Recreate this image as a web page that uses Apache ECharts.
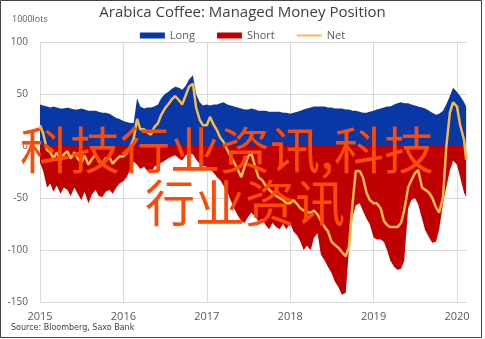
<!DOCTYPE html>
<html>
<head>
<meta charset="utf-8">
<script src="https://cdn.jsdelivr.net/npm/echarts@6/dist/echarts.min.js"></script>
<style>
  html, body { margin: 0; padding: 0; background: #fff; }
  #chart { width: 485px; height: 339px; }
</style>
</head>
<body>
<div id="chart"></div>
<script>
// CFTC managed-money positions in arabica coffee, thousand lots,
// sampled on the 1st and 15th of each month (Jan 2015 - Feb 2020)
const longPos = [
  40, 39,  38, 37,  38, 37,  36, 36,  37, 36,  35, 35,  36, 35,  34, 34,  34, 33,  32, 32,  31, 29,  27, 26,
  24, 23,  22, 22,  46, 38,  36, 37,  37, 38,  40, 46,  50, 52,  55, 57,  56, 54,  58, 64,  68, 50,  42, 39,
  40, 39,  40, 40,  41, 42,  40, 39,  38, 37,  36, 35,  35, 36,  35, 34,  34, 34,  33, 33,  33, 33,  32, 32,
  31, 32,  33, 34,  35, 36,  37, 38,  38, 38,  38, 37,  37, 36,  36, 36,  35, 35,  34, 34,  33, 32,  32, 33,
  34, 35,  36, 37,  38, 38,  40, 41,  42, 41,  41, 40,  39, 38,  37, 36,  34, 32,  30, 31,  34, 40,  48, 56,
  52, 48,  42, 38
];
const shortPos = [
  -16, -24,  -40, -36,  -44, -38,  -46, -40,  -42, -48,  -40, -46,  -52, -44,  -55, -47,  -42, -48,  -49, -44,  -42, -46,  -40, -36,
  -34, -30,  -22, -15,  -18, -22,  -20, -24,  -26, -20,  -18, -16,  -14, -12,  -10, -9,   -12, -14,  -9, -7,    -8, -13,   -17, -19,
  -20, -22,  -26, -30,  -33, -38,  -44, -52,  -60, -66,  -72, -74,  -68, -64,  -68, -72,  -70, -76,  -80, -74,  -78, -80,  -75, -80,
  -74, -82,  -86, -92,  -100, -96, -100, -88, -84, -104, -110, -116, -122, -130, -136, -143, -141, -100, -68, -57, -55, -62, -70, -75,
  -88, -90,  -90, -92,  -100, -110, -116, -119, -118, -110, -60, -52, -50, -56,  -70, -81,  -88, -93,  -92, -80,  -55, -40,  -23, -14,
  -18, -30,  -45, -49
];
const netPos = [
  20, 12,  -4, -6,  -12, -6,  -14, -8,  -5, -12,  -6, -12,  -16, -9,  -18, -13,  -8, -15,  -17, -12,  -11, -17,  -13, -10,
  -10, -7,  0, 7,  26, 16,  16, 13,  11, 18,  22, 30,  36, 40,  45, 48,  44, 40,  49, 57,  60, 37,  25, 20,
  20, 28,  20, 15,  8, 4,  -4, -10,  -16, -22,  -30, -20,  -10, -7,  -20, -30,  -33, -38,  -42, -45,  -48, -50,  -52, -55,
  -55, -52,  -56, -60,  -62, -64,  -64, -62,  -66, -72,  -78, -82,  -92, -95,  -98, -102,  -106, -97,  -55, -24,  -24, -30,  -45, -52,
  -55, -55,  -60, -72,  -76, -78,  -78, -78,  -74, -62,  -40, -33,  -26, -23,  -40, -42,  -45, -50,  -59, -64,  -49, -1,  32, 42,
  38, 20,  6, -13
];
const yearTicks = [2015, 2016, 2017, 2018, 2019, 2020];

// Report dates: 1st and 15th of every month, then the last two reports
const dates = [];
for (let y = 2015; y <= 2020; y++) {
  for (let m = 1; m <= 12; m++) {
    if (y === 2020 && m > 1) break;
    const mm = String(m).padStart(2, '0');
    dates.push(y + '-' + mm + '-01', y + '-' + mm + '-15');
  }
}
dates.push('2020-02-01', '2020-02-10');

// Date string -> fractional year for the value axis
function toYear(s) {
  const d = new Date(s + 'T00:00:00Z');
  const y = d.getUTCFullYear();
  const start = Date.UTC(y, 0, 1), end = Date.UTC(y + 1, 0, 1);
  return y + (d.getTime() - start) / (end - start);
}
const xs = dates.map(toYear);
const pair = arr => arr.map((v, i) => [xs[i], v]);

const BLUE = '#0a37a6', RED = '#c00000', GOLD = '#f5bd47';
const FONT = '"Open Sans", "Liberation Sans", sans-serif';
const chart = echarts.init(document.getElementById('chart'), null, { renderer: 'canvas' });

chart.setOption({
  animation: false,
  backgroundColor: '#fff',
  title: {
    text: 'Arabica Coffee: Managed Money Position',
    left: 'center',
    top: 0,
    textStyle: { fontFamily: FONT, fontSize: 15, fontWeight: 'normal', color: '#404040' }
  },
  legend: {
    top: 25,
    left: 'center',
    itemWidth: 25,
    itemHeight: 6,
    itemGap: 22,
    textStyle: { fontFamily: FONT, fontSize: 11, color: '#595959' },
    data: [
      { name: 'Long', icon: 'rect', itemStyle: { color: BLUE, borderWidth: 0 } },
      { name: 'Short', icon: 'rect', itemStyle: { color: RED, borderWidth: 0 } },
      { name: 'Net', icon: 'path://M0,0H25V2H0Z', itemStyle: { color: GOLD, borderWidth: 0 } }
    ]
  },
  grid: { left: 40, right: 18, top: 42, bottom: 37 },
  xAxis: {
    type: 'value',
    min: yearTicks[0],
    max: 2020.12,
    interval: 1,
    axisLine: { show: false },
    axisTick: { show: false },
    axisLabel: {
      fontFamily: FONT, fontSize: 11, color: '#595959', margin: 9,
      showMaxLabel: false,
      formatter: v => (yearTicks.indexOf(v) >= 0 ? String(v) : '')
    },
    splitLine: { show: true, showMaxLine: false, lineStyle: { color: '#d9d9d9', width: 1 } }
  },
  yAxis: {
    type: 'value',
    min: -150,
    max: 100,
    interval: 50,
    axisLine: { show: false },
    axisTick: { show: false },
    axisLabel: { fontFamily: FONT, fontSize: 10, color: '#595959', margin: 12 },
    splitLine: { lineStyle: { color: '#d9d9d9', width: 1 } }
  },
  series: [
    {
      name: 'Long', type: 'line', data: pair(longPos),
      symbol: 'none',
      lineStyle: { width: 0, color: BLUE },
      itemStyle: { color: BLUE },
      areaStyle: { color: BLUE, opacity: 1, origin: 'auto' },
      z: 2
    },
    {
      name: 'Short', type: 'line', data: pair(shortPos),
      symbol: 'none',
      lineStyle: { width: 0, color: RED },
      itemStyle: { color: RED },
      areaStyle: { color: RED, opacity: 1, origin: 'auto' },
      z: 2
    },
    {
      name: 'Net', type: 'line', data: pair(netPos),
      symbol: 'none',
      lineStyle: { width: 2.5, color: GOLD },
      itemStyle: { color: GOLD },
      z: 3
    }
  ],
  graphic: [
    {
      type: 'rect', silent: true, z: 50,
      shape: { x: 0.5, y: 0.5, width: 481, height: 337 },
      style: { fill: 'none', stroke: '#444', lineWidth: 1 }
    },
    {
      type: 'text', left: 12, top: 15, z: 50,
      style: { text: '1000lots', font: '9px ' + FONT, fill: '#595959' }
    },
    {
      type: 'text', left: 11, top: 324, z: 50,
      style: { text: 'Source: Bloomberg, Saxo Bank', font: '8px "DejaVu Sans", sans-serif', fill: '#404040' }
    },
    {
      type: 'text', left: 20, top: 125, z: 100,
      style: { text: '科技行业资讯,科技', font: '50px "Noto Sans CJK SC"', fill: '#ff4a05' }
    },
    {
      type: 'text', left: 145, top: 178, z: 100,
      style: { text: '行业资讯', font: '50px "Noto Sans CJK SC"', fill: '#ff4a05' }
    }
  ]
});
</script>
</body>
</html>
